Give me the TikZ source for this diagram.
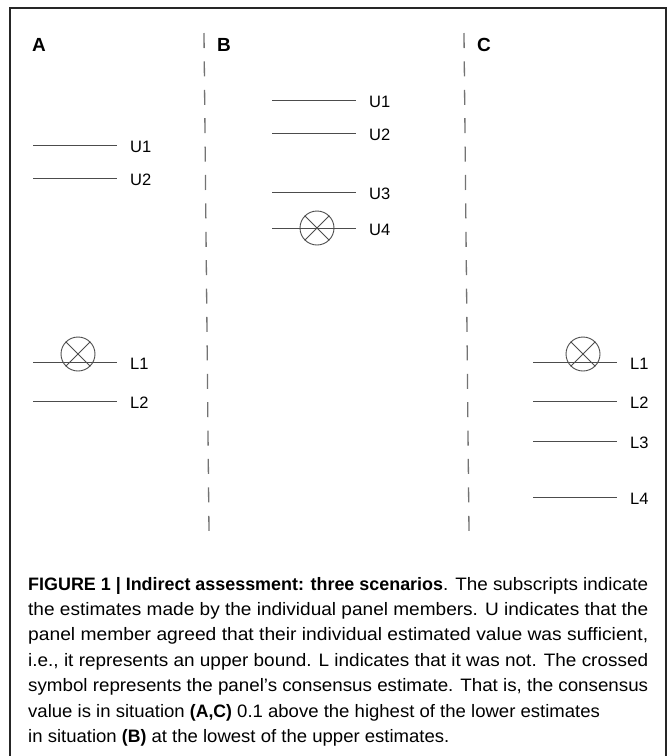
\documentclass[tikz,border=0pt]{standalone}
\usepackage{fontspec}
\setmainfont{Liberation Sans}
\newfontfamily\capreg{Liberation Sans}
\newfontfamily\capbold{Liberation Sans}[FakeStretch=0.95]
\usepackage{graphicx}
\newlength{\capw}
\newsavebox{\capbox}
\newcommand{\cb}[1]{{\capbold\bfseries #1}}
\newcommand{\jline}[1]{\sbox{\capbox}{#1}\setlength{\capw}{\wd\capbox}%
  \pgfmathsetmacro{\linefac}{620/\capw}\scalebox{\linefac}[1]{\usebox{\capbox}}}
\newcommand{\nline}[1]{\scalebox{1.03}[1]{#1}}
\begin{document}
\begin{tikzpicture}[x=1pt,y=-1pt,
  frame/.style={draw=black!85,line width=2pt},
  divider/.style={draw=black!55,line width=1.3pt,dash pattern=on 15pt off 13.4pt},
  est/.style={draw=black!70,line width=1pt},
  cons/.style={draw=black!70,line width=0.9pt},
  plabel/.style={inner sep=0pt,anchor=base west,font=\fontsize{19}{19}\selectfont\bfseries},
  elabel/.style={inner sep=0pt,anchor=west,font=\fontsize{16.5}{16.5}\selectfont},
  capline/.style={inner sep=0pt,anchor=base west,font=\fontsize{18}{18}\selectfont\capreg}]
\useasboundingbox (0,0) rectangle (668,756);
% frame
\draw[frame] (10,757) -- (10,8) -- (666,8) -- (666,757);
% dividers
\coordinate (d1t) at (204,33); \coordinate (d1b) at (209,532);
\coordinate (d2t) at (464,33); \coordinate (d2b) at (469,532);
\draw[divider] (d1t) -- (d1b);
\draw[divider] (d2t) -- (d2b);
% panel labels
\node[plabel] (pA) at (32,51) {A};
\node[plabel] (pB) at (217,51) {B};
\node[plabel] (pC) at (477,51) {C};
% estimate lines
\foreach \n/\xa/\yy/\t in {aU1/33/145/U1, aU2/33/178/U2, aL1/33/362/L1, aL2/33/401/L2,
  bU1/272/100/U1, bU2/272/133/U2, bU3/272/192/U3, bU4/272/228/U4,
  cL1/533/362/L1, cL2/533/401/L2, cL3/533/441/L3, cL4/533/497/L4}{
  \coordinate (\n s) at (\xa,\yy);
  \coordinate (\n e) at (\xa+84,\yy);
  \draw[est] (\n s) -- (\n e);
  \node[elabel] (\n) at (\xa+97,\yy+2) {\t};
}
% consensus symbols
\foreach \n/\cx/\cy in {sA/78/354, sB/317/228, sC/583/354}{
  \node[cons,circle,minimum size=34pt,inner sep=0pt] (\n) at (\cx,\cy) {};
  \draw[cons] (\n.north west) -- (\n.south east);
  \draw[cons] (\n.north east) -- (\n.south west);
}
% caption
\node[capline] (cap1) at (28,590) {\jline{\cb{FIGURE 1 | Indirect assessment: three scenarios}. The subscripts indicate}};
\node[capline] (cap2) at (28,615.4) {\jline{the estimates made by the individual panel members. U indicates that the}};
\node[capline] (cap3) at (28,640.8) {\jline{panel member agreed that their individual estimated value was sufficient,}};
\node[capline] (cap4) at (28,666.2) {\jline{i.e., it represents an upper bound. L indicates that it was not. The crossed}};
\node[capline] (cap5) at (28,691.6) {\jline{symbol represents the panel’s consensus estimate. That is, the consensus}};
\node[capline] (cap6) at (28,717) {\nline{value is in situation \cb{(A,C)} 0.1 above the highest of the lower estimates}};
\node[capline] (cap7) at (28,742.4) {\nline{in situation \cb{(B)} at the lowest of the upper estimates.}};
\end{tikzpicture}
\end{document}
